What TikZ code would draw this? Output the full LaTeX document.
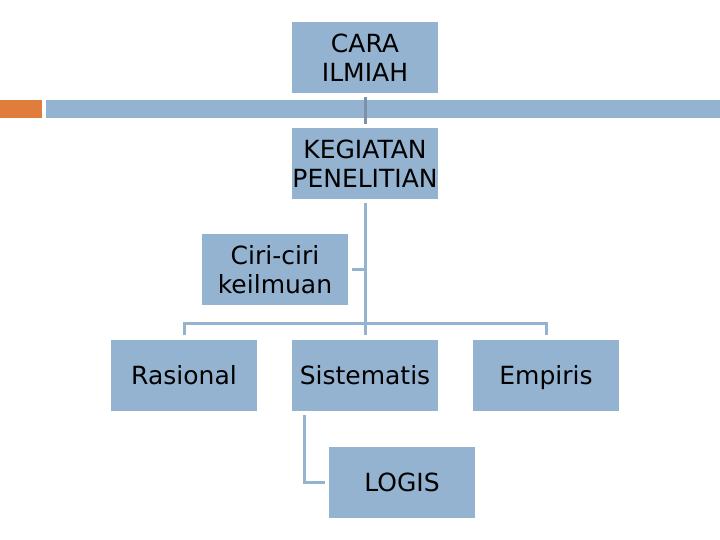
\documentclass[tikz,border=0pt]{standalone}
\usepackage{fontspec}
\setmainfont{DejaVu Sans}
\definecolor{boxblue}{RGB}{148,179,209}
\definecolor{accent}{RGB}{224,124,60}
\definecolor{darkline}{RGB}{125,145,168}
\begin{document}
\begin{tikzpicture}[x=1pt,y=-1pt,
  box/.style={fill=boxblue, minimum width=146pt, minimum height=71pt, inner sep=0pt, align=center, font=\fontsize{25}{29}\selectfont},
  conn/.style={draw=boxblue, line width=3pt}]
\useasboundingbox (0,0) rectangle (720,540);
\fill[accent] (0,100) rectangle (42,118);
\fill[boxblue] (46,100) rectangle (720,118);
\node[box] (cara) at (365,57.5) {CARA\\ILMIAH};
\node[box] (keg) at (365,163.5) {KEGIATAN\\PENELITIAN};
\node[box] (ciri) at (275,269.5) {Ciri-ciri\\keilmuan};
\node[box] (ras) at (184,375.5) {Rasional};
\node[box] (sis) at (365,375.5) {Sistematis};
\node[box, text depth=0pt] (emp) at (546,375.5) {Empiris};
\node[box] (logis) at (402,482) {LOGIS};
\coordinate (bus) at (365,323);
\coordinate (trunkend) at (365,335);
\draw[draw=darkline, line width=3pt] ([yshift=-4pt]cara.south) -- ([yshift=4pt]keg.north);
\draw[conn] ([yshift=-4pt]keg.south) -- (trunkend);
\draw[conn] ([xshift=4pt]ciri.east) -- (ciri.east -| bus);
\draw[conn] ([yshift=5pt]ras.north) |- (bus) -| ([yshift=5pt]emp.north);
\draw[conn] ([xshift=13pt,yshift=-4pt]sis.south west) |- ([xshift=-4pt]logis.west);
\end{tikzpicture}
\end{document}
